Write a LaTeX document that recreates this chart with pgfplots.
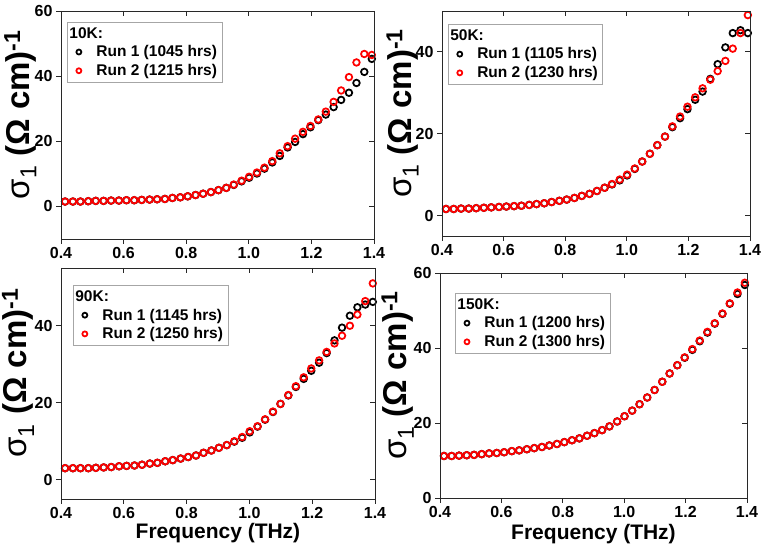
\documentclass[border=0pt]{standalone}
\usepackage{pgfplots}
\pgfplotsset{compat=1.18}
\usepackage{fontspec}
\setmainfont{Liberation Sans}

\definecolor{axgray}{RGB}{40,40,40}
\newcommand{\ylab}{{\fontsize{33}{36}\selectfont σ\textsubscript{1} \textbf{(Ω cm)}\textsuperscript{\textbf{-1}}}}
\newcommand{\ltitle}[1]{\makebox[0pt][l]{\hspace{-14pt}#1}}
\newcommand{\lent}[1]{\hspace{13pt}#1}

\pgfplotsset{
  base/.style={
    scale only axis,
    xmin=0.4, xmax=1.4,
    xtick={0.4,0.6,0.8,1.0,1.2,1.4},
    axis line style={line width=0.9pt, axgray},
    every tick/.style={line width=0.9pt, axgray},
    major tick length=5pt,
  },
  main/.style={base,
    xticklabels={0.4,0.6,0.8,1.0,1.2,1.4},
    tick align=outside, xtick pos=left, ytick pos=left,
    /pgf/number format/assume math mode=true,
    tick label style={font=\bfseries\fontsize{16}{18}\selectfont, text=black},
    ylabel={\ylab},
    legend style={draw=black!35, line width=0.8pt, font=\bfseries\fontsize{15.5}{18}\selectfont,
      anchor=north west, inner xsep=3pt, inner ysep=3pt, row sep=2pt},
    legend cell align=left,
    legend image post style={mark size=2.5pt, line width=1.3pt},
  },
  over/.style={base, tick align=inside, xtick pos=right, ytick pos=right,
    xticklabels={}, yticklabels={}},
  r1/.style={only marks, mark=o, mark size=3.3pt, mark options={line width=1.75pt}, color=black},
  r2/.style={only marks, mark=o, mark size=3.3pt, mark options={line width=1.75pt}, color=red},
}

\begin{document}
\begin{tikzpicture}
\useasboundingbox (0pt,0pt) rectangle (766pt,553pt);

% ---------------- Panel 1: 10K
\begin{axis}[main, at={(61pt,314pt)}, anchor=south west, width=313pt, height=228pt,
  ymin=-10, ymax=60, ytick={0,20,40,60},
  ylabel style={at={(axis description cs:-0.13,0.545)}, anchor=center},
  legend style={at={(axis description cs:0.019,0.952)}},
  legend entries={\ltitle{10K:}, \lent{Run 1 (1045 hrs)}, \lent{Run 2 (1215 hrs)}}]
\addlegendimage{empty legend}
\addplot[r1] coordinates {
(0.413,1.5)(0.438,1.5)(0.462,1.5)(0.487,1.6)(0.511,1.7)(0.536,1.7)(0.560,1.8)(0.585,1.8)(0.609,1.9)(0.634,1.9)
(0.658,2.0)(0.683,2.1)(0.707,2.2)(0.732,2.3)(0.756,2.6)(0.781,2.8)(0.805,3.1)(0.830,3.5)(0.854,3.9)(0.879,4.4)
(0.903,5.0)(0.928,5.7)(0.952,6.6)(0.977,7.7)(1.001,8.8)(1.026,10.1)(1.050,11.6)(1.075,13.5)(1.099,15.5)(1.124,18.1)
(1.148,19.8)(1.173,22.2)(1.197,24.3)(1.222,26.5)(1.246,28.2)(1.271,30.5)(1.295,32.7)(1.320,34.9)(1.344,37.9)(1.369,41.3)
(1.393,45.3)};
\addplot[r2] coordinates {
(0.413,1.5)(0.438,1.5)(0.462,1.5)(0.487,1.6)(0.511,1.7)(0.536,1.7)(0.560,1.8)(0.585,1.8)(0.609,1.9)(0.634,1.9)
(0.658,2.0)(0.683,2.1)(0.707,2.2)(0.732,2.3)(0.756,2.6)(0.781,2.8)(0.805,3.1)(0.830,3.5)(0.854,3.9)(0.879,4.4)
(0.903,5.0)(0.928,5.7)(0.952,6.7)(0.977,7.9)(1.001,9.1)(1.026,10.4)(1.050,11.9)(1.075,13.9)(1.099,16.3)(1.124,18.5)
(1.148,20.8)(1.173,22.9)(1.197,24.7)(1.222,26.7)(1.246,29.1)(1.271,32.1)(1.295,35.6)(1.320,39.7)(1.344,44.2)(1.369,46.8)
(1.393,46.5)};
\end{axis}
\begin{axis}[over, at={(61pt,314pt)}, anchor=south west, width=313pt, height=228pt,
  ymin=-10, ymax=60, ytick={0,20,40,60}]
\end{axis}

% ---------------- Panel 2: 50K
\begin{axis}[main, at={(442pt,317pt)}, anchor=south west, width=308pt, height=225pt,
  ymin=-5, ymax=50, ytick={0,20,40},
  ylabel style={at={(axis description cs:-0.128,0.545)}, anchor=center},
  legend style={at={(axis description cs:0.019,0.942)}},
  legend entries={\ltitle{50K:}, \lent{Run 1 (1105 hrs)}, \lent{Run 2 (1230 hrs)}}]
\addlegendimage{empty legend}
\addplot[r1] coordinates {
(0.413,1.6)(0.438,1.6)(0.462,1.7)(0.487,1.7)(0.511,1.8)(0.536,1.9)(0.560,2.0)(0.585,2.1)(0.609,2.2)(0.634,2.3)
(0.658,2.4)(0.683,2.6)(0.707,2.8)(0.732,3.0)(0.756,3.3)(0.781,3.6)(0.805,3.9)(0.830,4.3)(0.854,4.8)(0.879,5.3)
(0.903,6.0)(0.928,6.8)(0.952,7.6)(0.977,8.6)(1.001,9.8)(1.026,11.4)(1.050,13.2)(1.075,15.1)(1.099,17.2)(1.124,19.3)
(1.148,21.6)(1.173,23.8)(1.197,26.0)(1.222,28.3)(1.246,30.3)(1.271,33.4)(1.295,37.0)(1.320,41.1)(1.344,44.6)(1.369,45.3)
(1.393,44.6)};
\addplot[r2] coordinates {
(0.413,1.6)(0.438,1.6)(0.462,1.7)(0.487,1.7)(0.511,1.8)(0.536,1.9)(0.560,2.0)(0.585,2.1)(0.609,2.2)(0.634,2.3)
(0.658,2.4)(0.683,2.6)(0.707,2.8)(0.732,3.0)(0.756,3.3)(0.781,3.6)(0.805,3.9)(0.830,4.3)(0.854,4.8)(0.879,5.3)
(0.903,6.0)(0.928,6.8)(0.952,7.7)(0.977,8.8)(1.001,10.0)(1.026,11.5)(1.050,13.2)(1.075,15.1)(1.099,17.2)(1.124,19.3)
(1.148,21.8)(1.173,24.2)(1.197,26.6)(1.222,28.9)(1.246,31.1)(1.271,33.2)(1.295,35.3)(1.320,37.8)(1.344,40.8)(1.369,44.6)
(1.393,49.0)};
\end{axis}
\begin{axis}[over, at={(442pt,317pt)}, anchor=south west, width=308pt, height=225pt,
  ymin=-5, ymax=50, ytick={0,20,40}]
\end{axis}

% ---------------- Panel 3: 90K
\begin{axis}[main, at={(61pt,54pt)}, anchor=south west, width=314pt, height=231pt,
  ymin=-5, ymax=55, ytick={0,20,40},
  xlabel={Frequency (THz)},
  xlabel style={font=\bfseries\fontsize{21}{24}\selectfont, at={(axis description cs:0.5,-0.147)}, anchor=center},
  ylabel style={at={(axis description cs:-0.137,0.545)}, anchor=center},
  legend style={at={(axis description cs:0.038,0.926)}},
  legend entries={\ltitle{90K:}, \lent{Run 1 (1145 hrs)}, \lent{Run 2 (1250 hrs)}}]
\addlegendimage{empty legend}
\addplot[r1] coordinates {
(0.413,3.0)(0.438,3.0)(0.462,3.0)(0.487,3.0)(0.511,3.1)(0.536,3.2)(0.560,3.3)(0.585,3.5)(0.609,3.6)(0.634,3.7)
(0.658,3.9)(0.683,4.2)(0.707,4.4)(0.732,4.8)(0.756,5.1)(0.781,5.5)(0.805,5.9)(0.830,6.3)(0.854,7.0)(0.879,7.6)
(0.903,8.3)(0.928,9.0)(0.952,9.9)(0.977,10.9)(1.001,12.3)(1.026,13.8)(1.050,15.6)(1.075,17.6)(1.099,19.7)(1.124,21.9)
(1.148,24.1)(1.173,26.2)(1.197,28.3)(1.222,30.4)(1.246,32.9)(1.271,36.2)(1.295,39.5)(1.320,42.6)(1.344,44.8)(1.369,45.5)
(1.393,46.2)};
\addplot[r2] coordinates {
(0.413,3.0)(0.438,3.0)(0.462,3.0)(0.487,3.0)(0.511,3.1)(0.536,3.2)(0.560,3.3)(0.585,3.5)(0.609,3.6)(0.634,3.7)
(0.658,3.9)(0.683,4.2)(0.707,4.4)(0.732,4.8)(0.756,5.1)(0.781,5.5)(0.805,5.9)(0.830,6.3)(0.854,7.0)(0.879,7.6)
(0.903,8.3)(0.928,9.0)(0.952,10.0)(0.977,11.1)(1.001,12.6)(1.026,13.9)(1.050,15.7)(1.075,17.7)(1.099,19.7)(1.124,22.0)
(1.148,24.3)(1.173,26.6)(1.197,28.9)(1.222,31.0)(1.246,33.2)(1.271,35.4)(1.295,37.4)(1.320,40.0)(1.344,42.9)(1.369,46.4)
(1.393,51.0)};
\end{axis}
\begin{axis}[over, at={(61pt,54pt)}, anchor=south west, width=314pt, height=231pt,
  ymin=-5, ymax=55, ytick={0,20,40}]
\end{axis}

% ---------------- Panel 4: 150K
\begin{axis}[main, at={(440pt,55pt)}, anchor=south west, width=307pt, height=225pt,
  ymin=0, ymax=60, ytick={0,20,40,60},
  xlabel={Frequency (THz)},
  xlabel style={font=\bfseries\fontsize{21}{24}\selectfont, at={(axis description cs:0.5,-0.16)}, anchor=center},
  ylabel style={at={(axis description cs:-0.138,0.545)}, anchor=center},
  legend style={at={(axis description cs:0.049,0.911)}},
  legend entries={\ltitle{150K:}, \lent{Run 1 (1200 hrs)}, \lent{Run 2 (1300 hrs)}}]
\addlegendimage{empty legend}
\addplot[r1] coordinates {
(0.413,11.2)(0.438,11.2)(0.462,11.3)(0.487,11.4)(0.511,11.5)(0.536,11.7)(0.560,11.9)(0.585,12.0)(0.609,12.2)(0.634,12.5)
(0.658,12.7)(0.683,13.0)(0.707,13.3)(0.732,13.6)(0.756,14.0)(0.781,14.4)(0.805,14.9)(0.830,15.4)(0.854,15.9)(0.879,16.6)
(0.903,17.3)(0.928,18.1)(0.952,19.1)(0.977,20.4)(1.001,21.8)(1.026,23.3)(1.050,25.0)(1.075,26.8)(1.099,28.8)(1.124,31.0)
(1.148,33.2)(1.173,35.4)(1.197,37.4)(1.222,39.5)(1.246,41.8)(1.271,44.1)(1.295,46.5)(1.320,49.1)(1.344,51.8)(1.369,54.4)
(1.393,56.8)};
\addplot[r2] coordinates {
(0.413,11.2)(0.438,11.2)(0.462,11.3)(0.487,11.4)(0.511,11.5)(0.536,11.7)(0.560,11.9)(0.585,12.0)(0.609,12.2)(0.634,12.5)
(0.658,12.7)(0.683,13.0)(0.707,13.3)(0.732,13.6)(0.756,14.0)(0.781,14.4)(0.805,14.9)(0.830,15.4)(0.854,15.9)(0.879,16.6)
(0.903,17.3)(0.928,18.1)(0.952,19.1)(0.977,20.4)(1.001,21.8)(1.026,23.3)(1.050,25.0)(1.075,26.8)(1.099,28.8)(1.124,31.0)
(1.148,33.2)(1.173,35.4)(1.197,37.5)(1.222,39.7)(1.246,42.0)(1.271,44.3)(1.295,46.6)(1.320,49.2)(1.344,51.9)(1.369,54.8)
(1.393,57.4)};
\end{axis}
\begin{axis}[over, at={(440pt,55pt)}, anchor=south west, width=307pt, height=225pt,
  ymin=0, ymax=60, ytick={0,20,40,60}]
\end{axis}
\end{tikzpicture}
\end{document}
